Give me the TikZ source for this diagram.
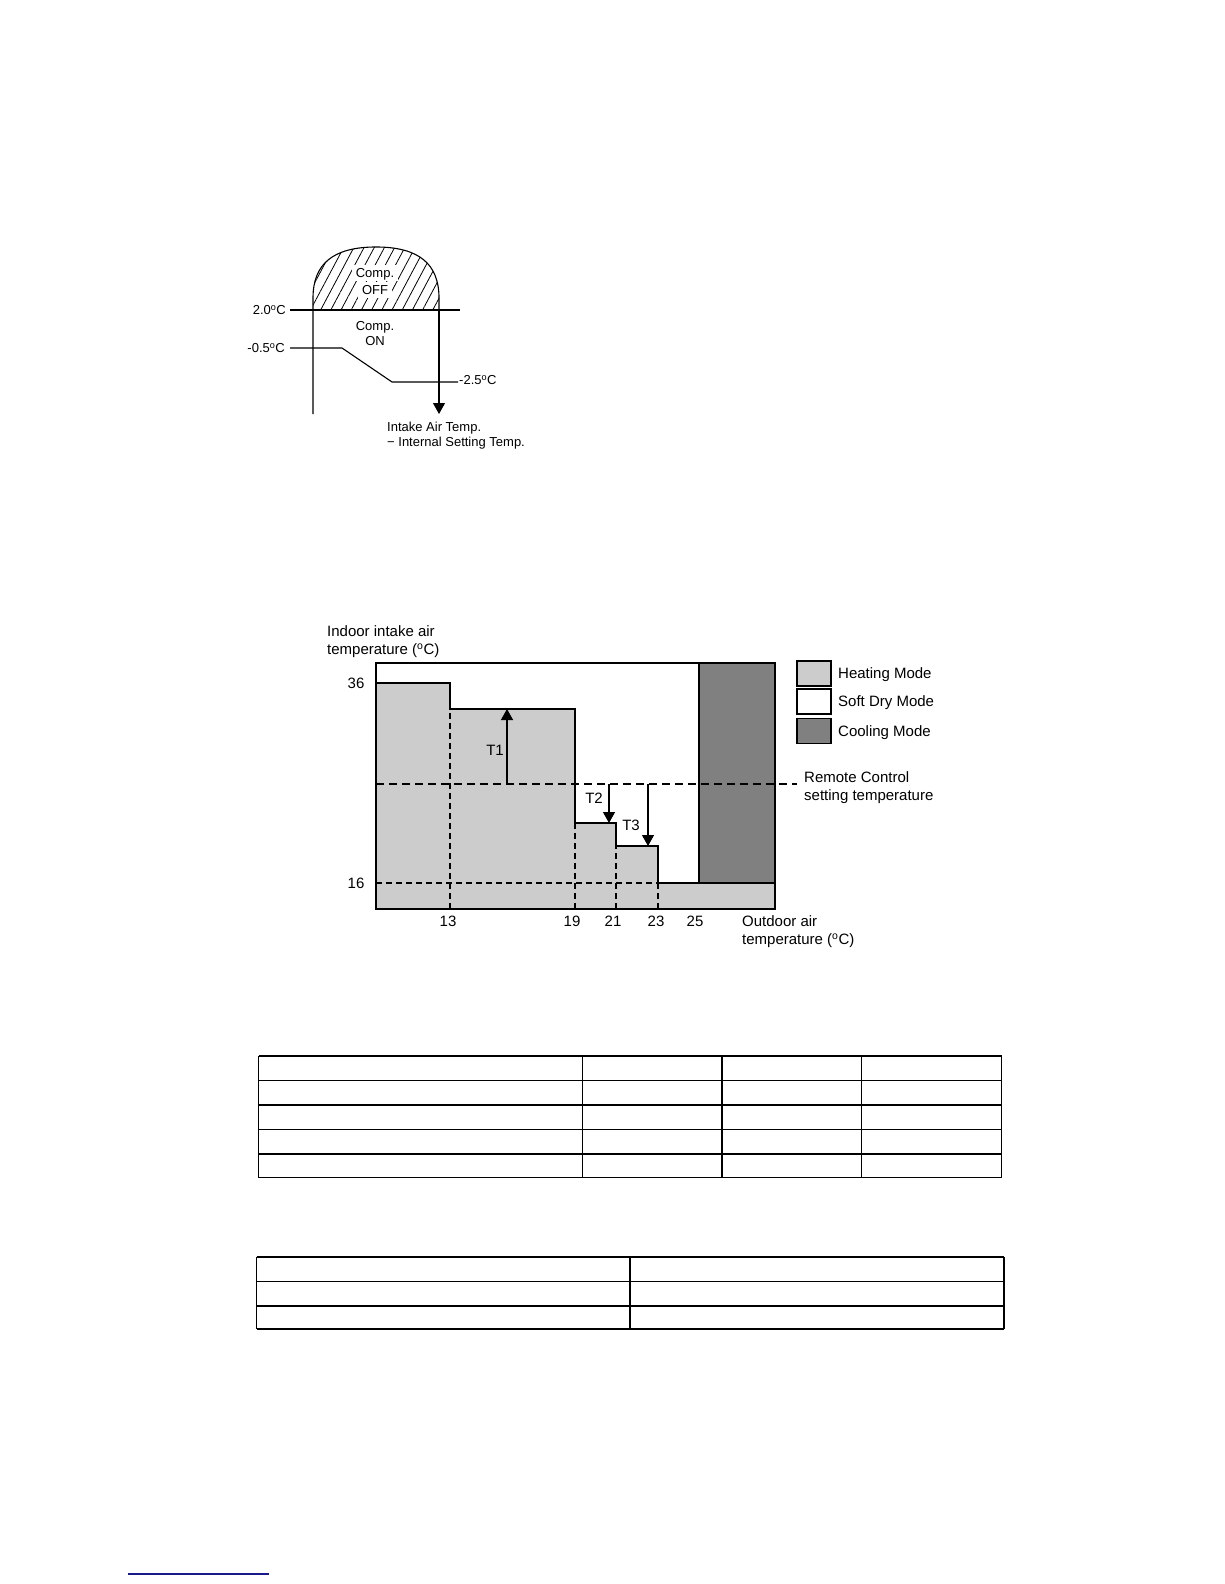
\documentclass[tikz,border=0pt]{standalone}
\usepackage{fontspec}
\setmainfont{Liberation Sans}
\usetikzlibrary{arrows.meta,patterns.meta}
\newcommand{\degc}{\textsuperscript{o}C}
\tikzset{
 lbl/.style={font=\fontsize{13}{15}\selectfont, inner sep=0pt, text height=9.3pt, text depth=0pt},
 clbl/.style={font=\fontsize{15}{18}\selectfont, inner sep=0pt, text height=10.7pt, text depth=0pt},
 thinln/.style={line width=1.1pt},
 framed/.style={line width=1.6pt},
 thindash/.style={line width=1.3pt, dash pattern=on 6pt off 4pt},
 thickdash/.style={line width=2.6pt, dash pattern=on 8pt off 5pt},
 tri/.style={-{Triangle[length=11pt,width=12pt]}},
 tbl/.style={line width=1.3pt},
 heat/.style={fill=black!20},
 cool/.style={fill=black!50},
 onhatch/.style={fill=white, inner xsep=4pt, inner ysep=3pt},
 legbox/.style={draw, line width=1.8pt, minimum width=34pt, minimum height=25pt, inner sep=0pt}
}
\begin{document}
\begin{tikzpicture}[x=1pt,y=-1pt]
\useasboundingbox (0,0) rectangle (1224,1584);
\fill[white] (0,0) rectangle (1224,1584);

% ---------------- Diagram 1 ----------------
\coordinate (dL) at (313,310);
\coordinate (dR) at (439,310);
\coordinate (dLb) at (313,414);
\coordinate (dRb) at (439,414);
\fill[pattern={Lines[angle=62,distance=9pt,line width=0.8pt]}]
  (dL) -- (313,298) .. controls (313,264) and (333,247) .. (376,247)
  .. controls (419,247) and (439,264) .. (439,298) -- (dR) -- cycle;
\draw[thinln] (dLb) -- (dL) -- (313,298) .. controls (313,264) and (333,247) .. (376,247)
  .. controls (419,247) and (439,264) .. (439,298) -- (dR);
\draw[thinln,tri] (dR) -- (dRb);

\coordinate (h20a) at (290,310);
\coordinate (h20b) at (460,310);
\draw[thinln] (h20a) -- (h20b);
\coordinate (m05a) at (290,348);
\coordinate (m05b) at (342,348);
\coordinate (m25a) at (392,382);
\coordinate (m25b) at (458,382);
\draw[thinln] (m05a) -- (m05b) -- (m25a) -- (m25b);

\node[lbl,anchor=east] (t20) at (286,310) {2.0\degc};
\node[lbl,anchor=east] (t05) at (285,348) {-0.5\degc};
\node[lbl,anchor=west] (t25) at (459,380) {-2.5\degc};
\node[lbl,onhatch] (coff1) at (375,273) {Comp.};
\node[lbl,onhatch] (coff2) at (375,290) {OFF};
\node[lbl] (con1) at (375,326) {Comp.};
\node[lbl] (con2) at (375,341) {ON};
\node[lbl,anchor=west] (in1) at (387,427) {Intake Air Temp.};
\node[lbl,anchor=west] (in2) at (387,442) {\char"2212\ Internal Setting Temp.};

% ---------------- Chart ----------------
\fill[heat] (376,909) -- (376,683) -- (450,683) -- (450,709) -- (575,709) -- (575,823)
  -- (616,823) -- (616,846) -- (658,846) -- (658,883) -- (775,883) -- (775,909) -- cycle;
\fill[cool] (699,663) rectangle (775,883);
\draw[framed] (376,683) -- (450,683) -- (450,709) -- (575,709) -- (575,823)
  -- (616,823) -- (616,846) -- (658,846) -- (658,883) -- (775,883);
\draw[framed] (699,663) -- (699,883);
\draw[thindash] (450,909) -- (450,709);
\draw[thindash] (575,909) -- (575,823);
\draw[thindash] (616,909) -- (616,846);
\draw[thindash] (658,909) -- (658,883);
\draw[thindash] (376,883) -- (658,883);
\draw[framed] (376,663) rectangle (775,909);

\coordinate (rcL) at (376,784);
\coordinate (rcR) at (797,784);
\draw[thickdash] (rcL) -- (rcR);

\coordinate (a1s) at (507,784);
\coordinate (a1e) at (507,709);
\coordinate (a2s) at (609,784);
\coordinate (a2e) at (609,823);
\coordinate (a3s) at (648,784);
\coordinate (a3e) at (648,846);
\draw[line width=1.3pt,tri] (a1s) -- (a1e);
\draw[line width=1.3pt,tri] (a2s) -- (a2e);
\draw[line width=1.3pt,tri] (a3s) -- (a3e);

\node[clbl] (T1) at (495,750) {T1};
\node[clbl] (T2) at (594,798) {T2};
\node[clbl] (T3) at (631,825) {T3};

\node[clbl,anchor=west] (yl1) at (327,631) {Indoor intake air};
\node[clbl,anchor=west] (yl2) at (327,649) {temperature (\degc)};
\node[clbl] (y36) at (356,683) {36};
\node[clbl] (y16) at (356,883) {16};
\node[clbl] (x13) at (448,921) {13};
\node[clbl] (x19) at (572,921) {19};
\node[clbl] (x21) at (613,921) {21};
\node[clbl] (x23) at (656,921) {23};
\node[clbl] (x25) at (695,921) {25};
\node[clbl,anchor=west] (xl1) at (742,921) {Outdoor air};
\node[clbl,anchor=west] (xl2) at (742,939) {temperature (\degc)};
\node[clbl,anchor=west] (rc1) at (804,777) {Remote Control};
\node[clbl,anchor=west] (rc2) at (804,795) {setting temperature};

\node[legbox,heat] (lgh) at (814,673.5) {};
\node[legbox,fill=white] (lgs) at (814,701.5) {};
\node[legbox,cool] (lgc) at (814,731) {};
\node[clbl,anchor=west] (lgt1) at (838,673) {Heating Mode};
\node[clbl,anchor=west] (lgt2) at (838,701) {Soft Dry Mode};
\node[clbl,anchor=west] (lgt3) at (838,731) {Cooling Mode};

% ---------------- Tables ----------------
\foreach \yy in {1056,1080.6,1105,1129.3,1154,1177.5}
  \draw[tbl] (258.5,\yy) -- (1001.8,\yy);
\foreach \xx in {258.5,582.7,722,861.5,1001.8}
  \draw[tbl] (\xx,1056) -- (\xx,1177.5);

\foreach \yy in {1257,1281.5,1306,1329}
  \draw[tbl] (256.5,\yy) -- (1004,\yy);
\foreach \xx in {256.5,630,1004}
  \draw[tbl] (\xx,1257) -- (\xx,1329);

% ---------------- bottom line ----------------
\draw[line width=1.5pt,color={rgb,255:red,25;green,25;blue,140}] (128,1574) -- (269,1574);
\end{tikzpicture}
\end{document}
